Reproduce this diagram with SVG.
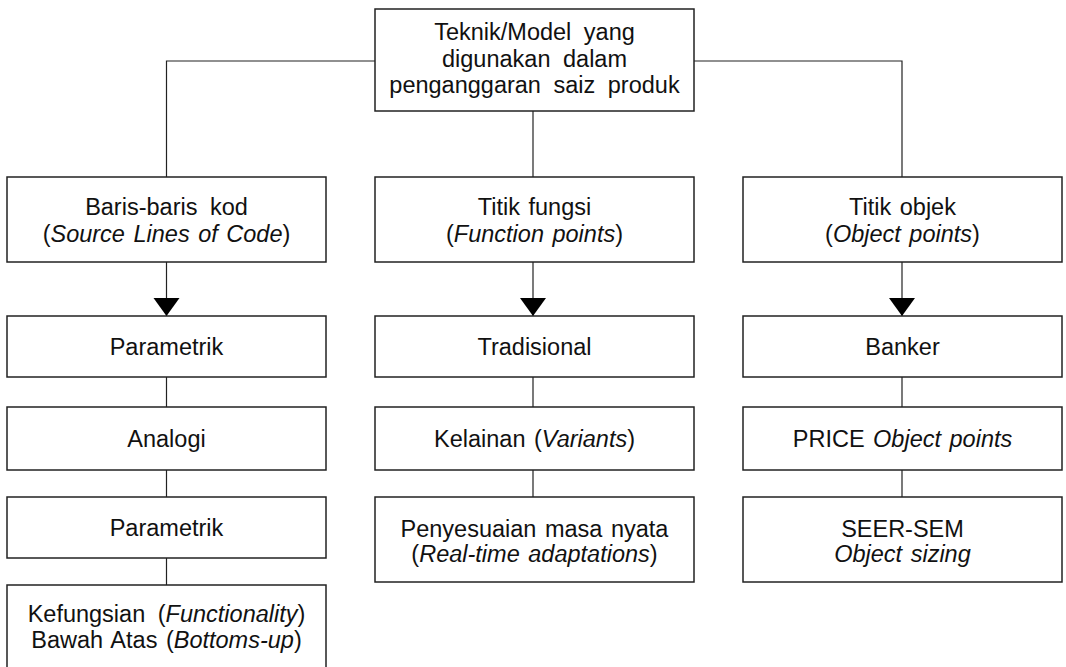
<svg xmlns="http://www.w3.org/2000/svg" width="1066" height="667" viewBox="0 0 1066 667">
<style>
.box{fill:#fff;stroke:#222;stroke-width:1.5}
.ln{fill:none;stroke:#222;stroke-width:1.2}
text{font-family:"Liberation Sans",Arial,sans-serif;font-size:23.5px;fill:#111;text-anchor:middle;word-spacing:2px}
.i{font-style:italic}
.w{word-spacing:6px}
</style>
<defs>
<marker id="ah" markerUnits="userSpaceOnUse" markerWidth="20" markerHeight="28" viewBox="0 -14 20 28" refX="18" refY="0" orient="auto">
<path d="M0,-13 L18,0 L0,13 Z" fill="#000"/>
</marker>
</defs>
<rect width="1066" height="667" fill="#fff"/>
<g id="connectors">
<path class="ln" d="M375,61 H166.5 V177"/>
<path class="ln" d="M694,61 H902 V177"/>
<path class="ln" d="M533,111 V177"/>
<path class="ln" d="M166.5,262 V316" marker-end="url(#ah)"/>
<path class="ln" d="M533,262 V316" marker-end="url(#ah)"/>
<path class="ln" d="M902,262 V316" marker-end="url(#ah)"/>
<path class="ln" d="M166.5,377 V407 M166.5,470 V497 M166.5,558 V585"/>
<path class="ln" d="M533,377 V407 M533,470 V497"/>
<path class="ln" d="M902,377 V407 M902,470 V497"/>
</g>
<g id="root">
<rect class="box" x="375" y="9" width="319" height="102"/>
<text x="534.5" y="40" class="w">Teknik/Model yang</text>
<text x="534.5" y="66.5" class="w">digunakan dalam</text>
<text x="534.5" y="93" class="w">penganggaran saiz produk</text>
</g>
<g id="sloc">
<rect class="box" x="7" y="177" width="319" height="85"/>
<text x="166.5" y="214.5" class="w">Baris-baris kod</text>
<text x="166.5" y="241.5">(<tspan class="i">Source Lines of Code</tspan>)</text>
</g>
<g id="fp">
<rect class="box" x="375" y="177" width="319" height="85"/>
<text x="534.5" y="214.5">Titik fungsi</text>
<text x="534.5" y="241.5">(<tspan class="i">Function points</tspan>)</text>
</g>
<g id="op">
<rect class="box" x="743" y="177" width="319" height="85"/>
<text x="902.5" y="214.5">Titik objek</text>
<text x="902.5" y="241.5">(<tspan class="i">Object points</tspan>)</text>
</g>
<g id="parametrik1">
<rect class="box" x="7" y="316" width="319" height="61"/>
<text x="166.5" y="355">Parametrik</text>
</g>
<g id="analogi">
<rect class="box" x="7" y="407" width="319" height="63"/>
<text x="166.5" y="447">Analogi</text>
</g>
<g id="parametrik2">
<rect class="box" x="7" y="497" width="319" height="61"/>
<text x="166.5" y="536">Parametrik</text>
</g>
<g id="kefungsian">
<rect class="box" x="7" y="585" width="319" height="90"/>
<text x="166.5" y="621.5" class="w">Kefungsian (<tspan class="i">Functionality</tspan>)</text>
<text x="166.5" y="647.5">Bawah Atas (<tspan class="i">Bottoms-up</tspan>)</text>
</g>
<g id="tradisional">
<rect class="box" x="375" y="316" width="319" height="61"/>
<text x="534.5" y="355">Tradisional</text>
</g>
<g id="kelainan">
<rect class="box" x="375" y="407" width="319" height="63"/>
<text x="534.5" y="447">Kelainan (<tspan class="i">Variants</tspan>)</text>
</g>
<g id="penyesuaian">
<rect class="box" x="375" y="497" width="319" height="85"/>
<text x="534.5" y="536.5">Penyesuaian masa nyata</text>
<text x="534.5" y="562">(<tspan class="i">Real-time adaptations</tspan>)</text>
</g>
<g id="banker">
<rect class="box" x="743" y="316" width="319" height="61"/>
<text x="902.5" y="355">Banker</text>
</g>
<g id="price">
<rect class="box" x="743" y="407" width="319" height="63"/>
<text x="902.5" y="447">PRICE <tspan class="i">Object points</tspan></text>
</g>
<g id="seer">
<rect class="box" x="743" y="497" width="319" height="85"/>
<text x="902.5" y="536.5">SEER-SEM</text>
<text x="902.5" y="562" class="i">Object sizing</text>
</g>
</svg>
